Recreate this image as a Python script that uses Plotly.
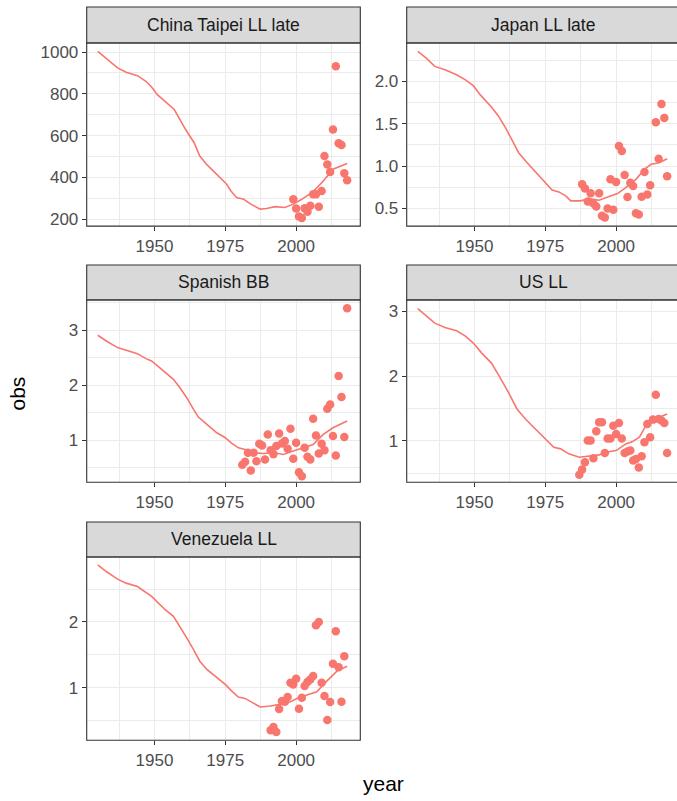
import plotly.graph_objects as go

W, H = 677, 801
COL = "#F8766D"

panels = ["China Taipei LL late", "Japan LL late", "Spanish BB", "US LL", "Venezuela LL"]

# ---- observed points ----
ct_years = list(range(1999, 2019))
ct_obs = [295, 251, 213, 206, 252, 235, 264, 319, 319, 260, 335, 502, 462, 426, 629, 932, 563, 555, 420, 386]

jp_years = [1988, 1989, 1990, 1991, 1992, 1993, 1994, 1995, 1996, 1997, 1998, 1999, 2000, 2001, 2002,
            2003, 2004, 2005, 2006, 2007, 2008, 2009, 2010, 2011, 2012, 2014, 2015, 2016, 2017, 2018]
jp_obs = [0.786, 0.735, 0.582, 0.68, 0.558, 0.523, 0.68, 0.414, 0.394, 0.5, 0.844, 0.485, 0.813, 1.236, 1.177,
          0.895, 0.637, 0.805, 0.766, 0.445, 0.43, 0.64, 0.931, 0.664, 0.774, 1.518, 1.087, 1.734, 1.569, 0.88]

sp_years = list(range(1981, 2019))
sp_obs = [0.55, 0.605, 0.769, 0.447, 0.769, 0.617, 0.933, 0.903, 0.647, 1.103, 0.817, 0.745, 0.891, 1.122,
          0.939, 0.982, 0.842, 1.207, 0.66, 0.951, 0.416, 0.343, 0.86, 0.696, 0.647, 1.389, 1.085, 0.757,
          0.933, 0.817, 1.571, 1.65, 1.073, 0.72, 2.167, 1.784, 1.055, 3.40]

us_years = list(range(1987, 2019))
us_obs = [0.476, 0.558, 0.671, 1.005, 1.005, 0.733, 1.149, 1.288, 1.288, 0.815, 1.036, 1.036, 1.236, 1.108,
          1.278, 1.036, 0.815, 0.835, 0.851, 0.697, 0.722, 0.589, 0.764, 0.98, 1.262, 1.057, 1.329, 1.715,
          1.339, 1.314, 1.278, 0.815]

ve_years = list(range(1991, 2018))
ve_obs = [0.354, 0.404, 0.328, 0.677, 0.798, 0.788, 0.859, 1.076, 1.05, 1.136, 0.682, 0.848, 1.025, 1.086,
          1.126, 1.18, 1.949, 2.0, 1.076, 0.874, 0.51, 0.783, 1.364, 1.859, 1.313, 0.788, 1.48]

# ---- fitted lines ----
ct_ly = [1930, 1933, 1937, 1940, 1944, 1947, 1949, 1951, 1954, 1957, 1959, 1961, 1964, 1966, 1968.5, 1972,
         1975.5, 1977, 1979, 1981.5, 1984, 1987.3, 1989.6, 1992.6, 1996, 1999, 2002, 2006, 2009.6, 2013, 2018]
ct_lv = [1003, 971, 924, 903, 887, 860, 833, 796, 760, 725, 677, 629, 566, 502, 461, 415,
         367, 335, 303, 295, 272, 248, 251, 260, 256, 272, 295, 332, 383, 439, 466]

jp_ly = [1930, 1933, 1936, 1939.6, 1943.7, 1946.7, 1949.6, 1952, 1956, 1958.5, 1961, 1963.2, 1965.6, 1968.6,
         1972.7, 1975, 1977.4, 1979.8, 1982.2, 1984, 1987.5, 1990.4, 1994, 1997.5, 2000.5, 2003.4, 2007,
         2010, 2012.3, 2015.2, 2018]
jp_lv = [2.353, 2.274, 2.176, 2.137, 2.078, 2.02, 1.949, 1.843, 1.698, 1.589, 1.452, 1.315, 1.158, 1.04,
         0.895, 0.813, 0.719, 0.696, 0.649, 0.59, 0.59, 0.617, 0.598, 0.641, 0.676, 0.747, 0.844,
         0.962, 1.021, 1.04, 1.087]

sp_ly = [1930, 1933, 1937, 1940, 1944, 1947, 1949, 1951.4, 1953.8, 1956.7, 1959, 1961.4, 1963.8, 1965.5,
         1968.5, 1972, 1975, 1977.3, 1979.6, 1982, 1985, 1988.5, 1992, 1995.5, 1999, 2002.6, 2006, 2009.6,
         2013, 2018]
sp_lv = [2.909, 2.805, 2.684, 2.635, 2.574, 2.483, 2.441, 2.337, 2.228, 2.106, 1.954, 1.772, 1.559, 1.419,
         1.286, 1.134, 1.043, 0.939, 0.86, 0.83, 0.769, 0.757, 0.769, 0.739, 0.8, 0.86, 0.921, 1.103,
         1.225, 1.347]

us_ly = [1930, 1933, 1936, 1939.6, 1943.7, 1946.7, 1949.6, 1952.6, 1956, 1959, 1962, 1965, 1968, 1971.5,
         1975, 1978, 1980.4, 1983.3, 1987, 1990.4, 1994, 1996.3, 2000, 2003.4, 2005.8, 2008.2, 2010.5,
         2013, 2015.2, 2018]
us_lv = [3.046, 2.933, 2.82, 2.753, 2.702, 2.625, 2.512, 2.357, 2.203, 1.982, 1.751, 1.494, 1.339, 1.185,
         1.041, 0.902, 0.877, 0.8, 0.748, 0.764, 0.784, 0.825, 0.851, 0.954, 0.99, 1.057, 1.236,
         1.339, 1.365, 1.416]

ve_ly = [1930, 1933, 1937, 1940, 1944, 1947, 1949, 1951.4, 1953.8, 1956.7, 1959, 1961.4, 1963.8, 1966,
         1968.5, 1972, 1975, 1977.3, 1979.6, 1982, 1984.4, 1987.3, 1990.8, 1994.4, 1998, 2001.4, 2003.8,
         2007.3, 2010.8, 2014.4, 2018]
ve_lv = [2.869, 2.768, 2.652, 2.591, 2.54, 2.449, 2.389, 2.288, 2.187, 2.086, 1.934, 1.758, 1.581, 1.404,
         1.278, 1.152, 1.051, 0.949, 0.859, 0.838, 0.773, 0.707, 0.722, 0.747, 0.788, 0.859, 0.889,
         0.939, 1.101, 1.253, 1.328]

x_ticks = [1950, 1975, 2000]
x_minor = [1937.5, 1962.5, 1987.5, 2012.5]

data = [
    (ct_years, ct_obs, ct_ly, ct_lv),
    (jp_years, jp_obs, jp_ly, jp_lv),
    (sp_years, sp_obs, sp_ly, sp_lv),
    (us_years, us_obs, us_ly, us_lv),
    (ve_years, ve_obs, ve_ly, ve_lv),
]

y_ticks = [[200, 400, 600, 800, 1000], [0.5, 1.0, 1.5, 2.0], [1, 2, 3], [1, 2, 3], [1, 2]]
y_ticktext = [["200", "400", "600", "800", "1000"], ["0.5", "1.0", "1.5", "2.0"], ["1", "2", "3"],
              ["1", "2", "3"], ["1", "2"]]
y_minor = [[300, 500, 700, 900], [0.75, 1.25, 1.75, 2.25], [0.5, 1.5, 2.5, 3.5], [0.5, 1.5, 2.5],
           [0.5, 1.5, 2.5]]
y_ranges = [[166.6, 1044], [0.292, 2.454], [0.234, 3.553], [0.362, 3.18], [0.202, 2.99]]

# layout geometry in pixels
col_x = [(86.7, 360.3), (406.7, 680.0)]
row_y = [(7, 43, 227), (266, 301, 484), (524, 559, 743)]  # strip top, plot top, plot bottom
px_per_yr = 2.834
x0 = 1926.1

fig = go.Figure()
shapes = []
annotations = []
FONT = "Arial, Liberation Sans, sans-serif"

for i, (yrs, obs, ly, lv) in enumerate(data):
    r, c = divmod(i, 2)
    xl, xr = col_x[c]
    st, pt, pb = row_y[r]
    xr_vis = min(xr, W)
    xdom = [xl / W, xr_vis / W]
    ydom = [1 - pb / H, 1 - pt / H]
    xrange = [x0, x0 + (xr_vis - xl) / px_per_yr]
    n = "" if i == 0 else str(i + 1)
    fig.add_trace(go.Scatter(x=ly, y=lv, mode="lines", line=dict(color=COL, width=1.6),
                             xaxis="x" + n, yaxis="y" + n, showlegend=False, hoverinfo="skip"))
    fig.add_trace(go.Scatter(x=yrs, y=obs, mode="markers", marker=dict(color=COL, size=8.5),
                             xaxis="x" + n, yaxis="y" + n, showlegend=False))
    common = dict(showline=False, zeroline=False, ticks="outside", ticklen=4, tickwidth=1.1,
                  tickcolor="#333333", showgrid=True, gridcolor="#EBEBEB", gridwidth=1.1,
                  tickfont=dict(family=FONT, size=17, color="#4D4D4D"))
    fig.layout["xaxis" + n] = dict(domain=xdom, range=xrange, anchor="y" + n, tickvals=x_ticks,
                                   ticktext=[str(v) for v in x_ticks],
                                   minor=dict(tickvals=x_minor, showgrid=True, gridcolor="#EBEBEB",
                                              gridwidth=0.6, ticklen=0),
                                   **common)
    fig.layout["yaxis" + n] = dict(domain=ydom, range=y_ranges[i], anchor="x" + n, tickvals=y_ticks[i],
                                   ticktext=y_ticktext[i],
                                   minor=dict(tickvals=y_minor[i], showgrid=True, gridcolor="#EBEBEB",
                                              gridwidth=0.6, ticklen=0),
                                   **common)
    # panel border
    shapes.append(dict(type="rect", xref="paper", yref="paper", x0=xl / W, x1=xr / W,
                       y0=1 - pb / H, y1=1 - pt / H, line=dict(color="#333333", width=1.1),
                       fillcolor="rgba(0,0,0,0)", layer="above"))
    # strip
    shapes.append(dict(type="rect", xref="paper", yref="paper", x0=xl / W, x1=xr / W,
                       y0=1 - pt / H, y1=1 - st / H, line=dict(color="#333333", width=1.1),
                       fillcolor="#D9D9D9", layer="above"))
    annotations.append(dict(text=panels[i], xref="paper", yref="paper", x=(xl + xr) / 2 / W,
                            y=1 - (st + pt) / 2 / H, showarrow=False, xanchor="center", yanchor="middle",
                            font=dict(family=FONT, size=17.5, color="#1A1A1A")))

annotations.append(dict(text="year", xref="paper", yref="paper", x=383 / W, y=1 - 786 / H, showarrow=False,
                        xanchor="center", yanchor="middle", font=dict(family=FONT, size=21, color="black")))
annotations.append(dict(text="obs", xref="paper", yref="paper", x=18 / W, y=1 - 395 / H, showarrow=False,
                        textangle=-90, xanchor="center", yanchor="middle",
                        font=dict(family=FONT, size=21, color="black")))

fig.update_layout(width=W, height=H, margin=dict(l=0, r=0, t=0, b=0), paper_bgcolor="white",
                  plot_bgcolor="white", shapes=shapes, annotations=annotations, showlegend=False)

fig.write_html("out.html")
